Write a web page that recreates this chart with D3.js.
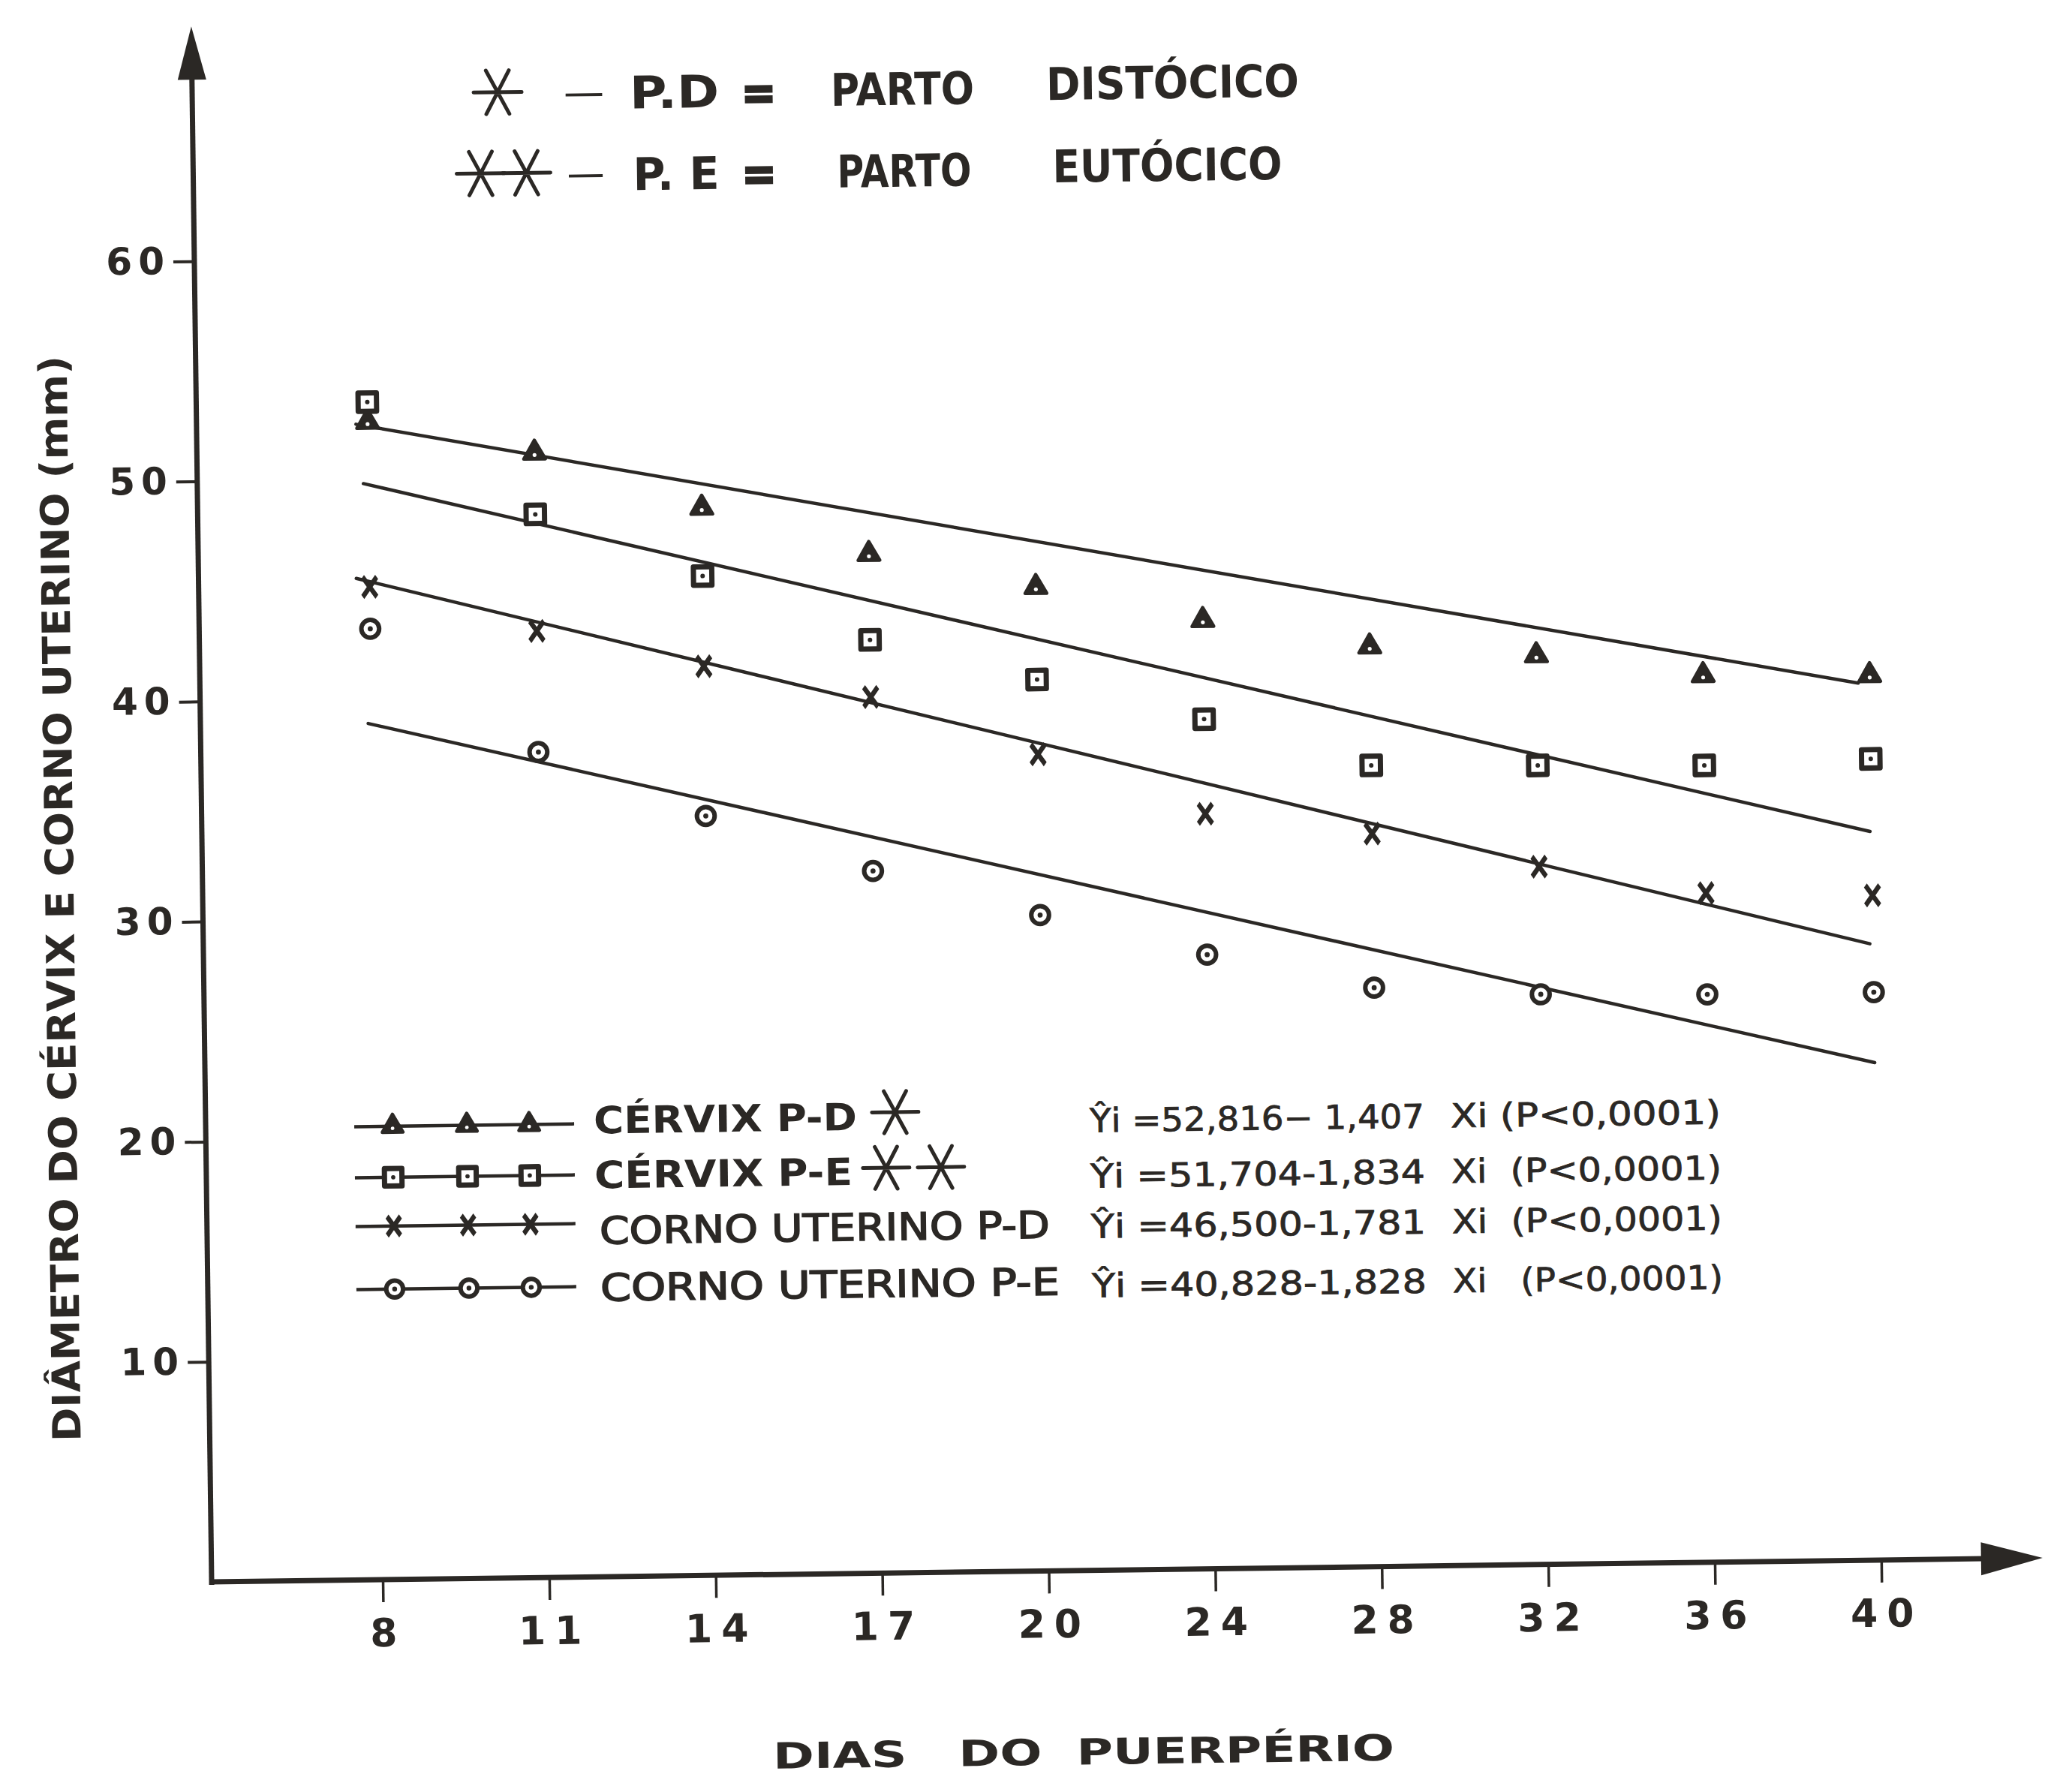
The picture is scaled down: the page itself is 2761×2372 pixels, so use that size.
<!DOCTYPE html>
<html>
<head>
<meta charset="utf-8">
<script src="https://cdn.jsdelivr.net/npm/d3@7"></script>
<style>
  html, body { margin: 0; padding: 0; background: #ffffff; }
  svg { display: block; }
</style>
</head>
<body>
<svg id="chart"></svg>
<script>
// ---------------- DATA ----------------
const days = ["8", "11", "14", "17", "20", "24", "28", "32", "36", "40"];
const yTicks = [10, 20, 30, 40, 50, 60];

const cervixPD = [52.6, 51.1, 48.5, 46.3, 44.7, 43.1, 41.8, 41.3, 40.3, 40.2];
const cervixPE = [53.5, 48.3, 45.4, 42.4, 40.5, 38.6, 36.4, 36.3, 36.2, 36.4];
const cornoPD  = [45.1, 43.0, 41.3, 39.8, 37.1, 34.3, 33.3, 31.7, 30.4, 30.2];
const cornoPE  = [43.2, 37.5, 34.5, 31.9, 29.8, 27.9, 26.3, 25.9, 25.8, 25.8];

// fitted lines as drawn: [Xi start, Y start, Xi end, Y end]
const fitCervixPD = [0.93, 52.5, 9.93, 39.85];
const fitCervixPE = [0.97, 49.8, 9.99, 33.1];
const fitCornoPD  = [0.92, 45.5, 9.98, 28.0];
const fitCornoPE  = [0.98, 38.9, 10.0, 22.6];

const seriesLabels = ["CÉRVIX P-D", "CÉRVIX P-E", "CORNO UTERINO P-D", "CORNO UTERINO P-E"];
const eqLeft  = ["Ŷi =52,816− 1,407", "Ŷi =51,704-1,834", "Ŷi =46,500-1,781", "Ŷi =40,828-1,828"];
const eqRight = ["Xi (P<0,0001)", "Xi  (P<0,0001)", "Xi  (P<0,0001)", "Xi   (P<0,0001)"];

const yTitle = "DIÂMETRO DO CÉRVIX E CORNO UTERINO (mm)";
const xTitle = "DIAS   DO  PUERPÉRIO";

// ---------------- DRAWING ----------------
const W = 2761, H = 2372;
const INK = "#2b2825";
const FONT = "DejaVu Sans";

const svg = d3.select("#chart").attr("width", W).attr("height", H);
svg.append("rect").attr("width", W).attr("height", H).attr("fill", "#ffffff");

// whole sheet is slightly rotated in the scan
const g = svg.append("g").attr("transform", "rotate(-0.75,282,2108)");

const x = d3.scalePoint().domain(days).range([510, 2507]);
const xi = d3.scaleLinear().domain([1, 10]).range([510, 2507]);
const y = d3.scaleLinear().domain([0, 60]).range([2108, 348]);

function T(parent, str, px, yc, size, o = {}) {
  const t = parent.append("text")
    .attr("x", px).attr("y", yc + 0.3645 * size)
    .attr("font-family", FONT).attr("font-size", size)
    .attr("font-weight", o.bold ? "bold" : "normal")
    .attr("fill", INK)
    .attr("text-anchor", o.anchor || "start")
    .style("white-space", "pre")
    .text(str);
  if (o.len) t.attr("textLength", o.len).attr("lengthAdjust", "spacingAndGlyphs");
  if (o.stroke) t.attr("stroke", INK).attr("stroke-width", o.stroke);
  return t;
}

function asterisk(parent, cx, cy, w, h, sw) {
  const p = d3.path();
  p.moveTo(cx - w / 2, cy); p.lineTo(cx + w / 2, cy);
  p.moveTo(cx - w * 0.24, cy - h / 2); p.lineTo(cx + w * 0.24, cy + h / 2);
  p.moveTo(cx + w * 0.24, cy - h / 2); p.lineTo(cx - w * 0.24, cy + h / 2);
  parent.append("path").attr("d", p.toString()).attr("fill", "none")
    .attr("stroke", INK).attr("stroke-width", sw).attr("stroke-linecap", "round");
}

function marker(parent, shape, cx, cy, k = 1) {
  const m = parent.append("g").attr("transform", `translate(${cx},${cy})`);
  if (shape === "tri") {
    m.append("path").attr("d", d3.symbol().type(d3.symbolTriangle).size(360 * k * k)())
      .attr("fill", INK).attr("stroke", INK).attr("stroke-width", 4.5).attr("stroke-linejoin", "round");
    m.append("circle").attr("cx", 0).attr("cy", 3 * k).attr("r", 2.6 * k).attr("fill", "#fff");
  } else if (shape === "sq") {
    m.append("path").attr("d", d3.symbol().type(d3.symbolSquare).size(600 * k * k)())
      .attr("fill", "#fff").attr("stroke", INK).attr("stroke-width", 7).attr("stroke-linejoin", "round");
    m.append("circle").attr("r", 3 * k).attr("fill", INK);
  } else if (shape === "x") {
    m.append("path").attr("d", d3.symbol().type(d3.symbolTimes).size(320 * k * k)())
      .attr("transform", "scale(0.85,1.2)")
      .attr("fill", "none").attr("stroke", INK).attr("stroke-width", 6.5);
  } else {
    m.append("path").attr("d", d3.symbol().type(d3.symbolCircle).size(440 * k * k)())
      .attr("fill", "#fff").attr("stroke", INK).attr("stroke-width", 6);
    m.append("circle").attr("r", 3.4 * k).attr("fill", INK);
  }
}

// ---- Y axis ----
const yAxis = g.append("g").attr("transform", "translate(282,0)")
  .call(d3.axisLeft(y).tickValues(yTicks).tickSize(28).tickPadding(4).tickFormat(d => String(d)));
yAxis.select(".domain").remove();
yAxis.selectAll(".tick line").attr("stroke", INK).attr("stroke-width", 4);
yAxis.selectAll(".tick text")
  .attr("font-family", FONT).attr("font-size", 50).attr("font-weight", "bold")
  .attr("fill", INK).attr("letter-spacing", 8);

g.append("line").attr("x1", 282).attr("y1", 2112).attr("x2", 282).attr("y2", 90)
  .attr("stroke", INK).attr("stroke-width", 7);
g.append("path").attr("d", "M282,35 L263,106 L301,106 Z").attr("fill", INK);

// ---- X axis ----
const xAxis = g.append("g").attr("transform", "translate(0,2108)")
  .call(d3.axisBottom(x).tickSize(30).tickPadding(22));
xAxis.select(".domain").remove();
xAxis.selectAll(".tick line").attr("stroke", INK).attr("stroke-width", 3.5);
xAxis.selectAll(".tick text")
  .attr("font-family", FONT).attr("font-size", 52).attr("font-weight", "bold")
  .attr("fill", INK).attr("letter-spacing", 12).attr("dx", 6);

g.append("line").attr("x1", 279).attr("y1", 2108).attr("x2", 2660).attr("y2", 2108)
  .attr("stroke", INK).attr("stroke-width", 7);
g.append("path").attr("d", "M2722,2108 L2640,2086 L2640,2130 Z").attr("fill", INK);

// ---- axis titles ----
T(g, yTitle, 0, 0, 52, { bold: true, anchor: "middle", len: 1447 })
  .attr("transform", "translate(91,1195) rotate(-90)");
T(g, xTitle, 1441, 2349, 48, { bold: true, anchor: "middle", len: 828 });

// ---- fitted lines ----
const fits = [fitCervixPD, fitCervixPE, fitCornoPD, fitCornoPE];
g.selectAll("line.fit").data(fits).enter().append("line").attr("class", "fit")
  .attr("x1", d => xi(d[0])).attr("y1", d => y(d[1]))
  .attr("x2", d => xi(d[2])).attr("y2", d => y(d[3]))
  .attr("stroke", INK).attr("stroke-width", 4.5).attr("stroke-linecap", "round");

// ---- data points ----
const series = [
  { vals: cervixPD, shape: "tri" },
  { vals: cervixPE, shape: "sq" },
  { vals: cornoPD, shape: "x" },
  { vals: cornoPE, shape: "o" }
];
series.forEach(s => {
  s.vals.forEach((v, i) => marker(g, s.shape, x(days[i]), y(v)));
});

// ---- top legend ----
const topL = g.append("g");
asterisk(topL, 689, 128, 64, 58, 5);
T(topL, "—", 777, 128, 56, { len: 54 });
T(topL, "P.D", 865, 130, 60, { bold: true, len: 119 });
T(topL, "=", 1014, 132, 62, { bold: true, len: 46, stroke: 3 });
T(topL, "PARTO", 1133, 130, 60, { bold: true, len: 191 });
T(topL, "DISTÓCICO", 1420, 126, 60, { bold: true, len: 337 });

asterisk(topL, 665, 236, 64, 58, 5);
asterisk(topL, 726, 236, 64, 58, 5);
T(topL, "—", 780, 236, 56, { len: 50 });
T(topL, "P. E", 868, 239, 60, { bold: true, len: 115 });
T(topL, "=", 1013, 240, 62, { bold: true, len: 46, stroke: 3 });
T(topL, "PARTO", 1140, 239, 60, { bold: true, len: 179 });
T(topL, "EUTÓCICO", 1427, 236, 60, { bold: true, len: 306 });

// ---- bottom legend ----
const rowLine = [1504, 1572, 1637, 1721];
const rowLabel = [1499, 1572, 1646, 1722];
const rowEq = [1508, 1582, 1649, 1728];
const labelX = [799, 799, 805, 805];
const labelLen = [351, 344, 600, 612];
const shapes = ["tri", "sq", "x", "o"];
const leg = g.append("g");
seriesLabels.forEach((lab, r) => {
  leg.append("line").attr("x1", 480).attr("x2", 773).attr("y1", rowLine[r]).attr("y2", rowLine[r])
    .attr("stroke", INK).attr("stroke-width", 4.5);
  [531, 630, 713].forEach(mx => marker(leg, shapes[r], mx, rowLine[r], 0.95));
  T(leg, lab, labelX[r], rowLabel[r], 50, r < 2 ? { bold: true, len: labelLen[r] } : { len: labelLen[r], stroke: 1.6 });
  T(leg, eqLeft[r], 1460, rowEq[r], 44, { len: 446, stroke: 0.8 });
  T(leg, eqRight[r], 1941, rowEq[r], 44, { len: 360, stroke: 0.8 });
});
asterisk(leg, 1201, 1494, 62, 56, 5);
asterisk(leg, 1188, 1568, 62, 56, 5);
asterisk(leg, 1261, 1568, 62, 56, 5);
</script>
</body>
</html>
